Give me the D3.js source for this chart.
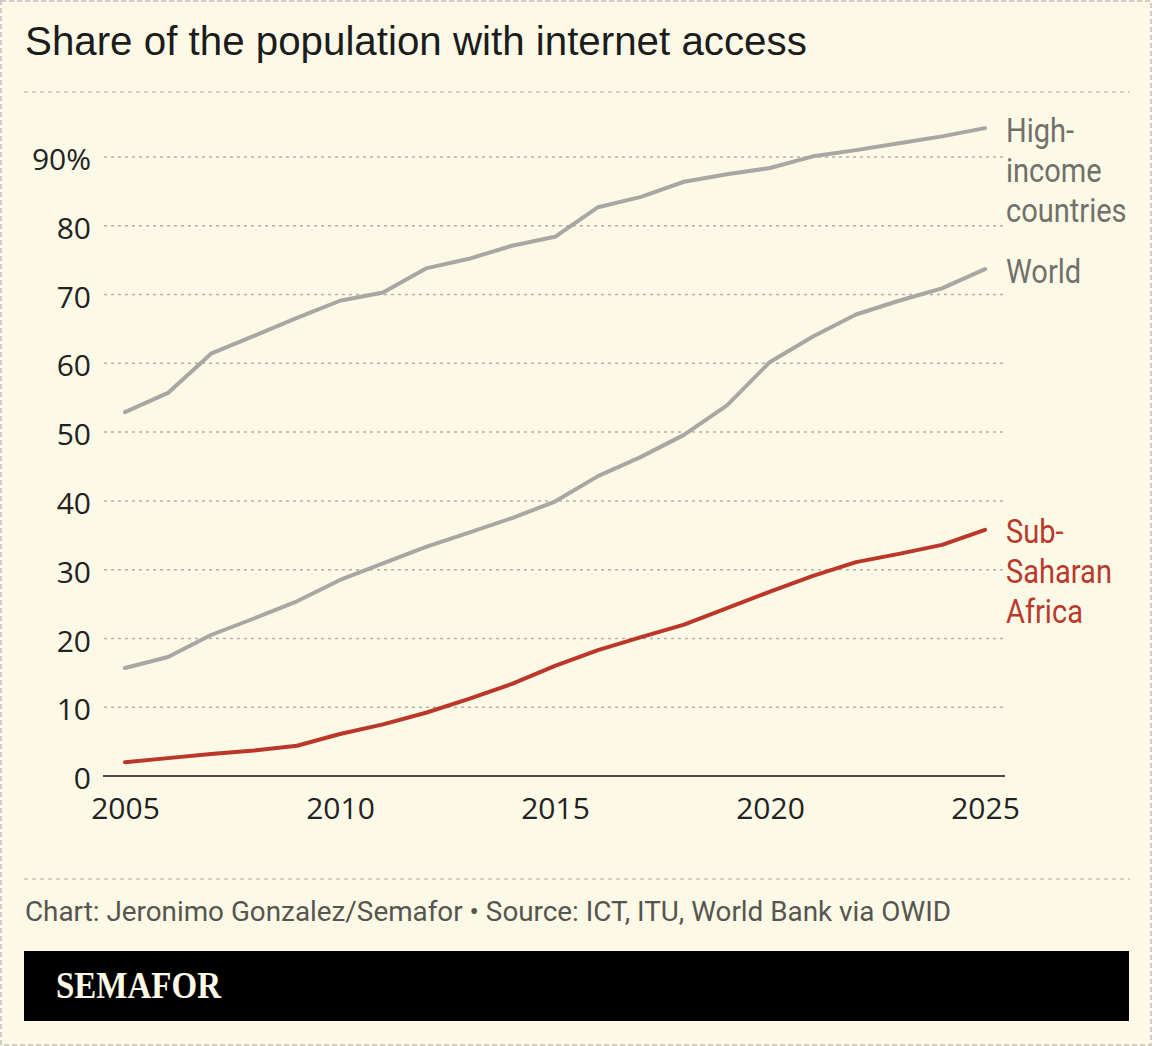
<!DOCTYPE html>
<html>
<head>
<meta charset="utf-8">
<script src="https://cdn.jsdelivr.net/npm/d3@7"></script>
<style>
  body { margin: 0; background: #fcf9e7; }
  svg { display: block; }
  .tick text { font-family: "Open Sans", sans-serif; }
</style>
</head>
<body>
<div class="chart"></div>
<script>
// data
var years = d3.range(2005, 2026);
var highIncome = [52.9, 55.7, 61.4, 64.0, 66.6, 69.1, 70.3, 73.8, 75.2, 77.1, 78.4,
                  82.7, 84.2, 86.4, 87.5, 88.4, 90.1, 91.0, 92.0, 93.0, 94.2];
var world = [15.7, 17.3, 20.5, 22.9, 25.4, 28.5, 30.9, 33.3, 35.4, 37.5, 39.9,
             43.6, 46.4, 49.6, 53.9, 60.2, 63.9, 67.1, 69.1, 70.9, 73.7];
var subSaharan = [2.0, 2.6, 3.2, 3.7, 4.4, 6.1, 7.5, 9.2, 11.2, 13.4, 16.0,
                  18.3, 20.2, 22.0, 24.4, 26.8, 29.1, 31.1, 32.3, 33.6, 35.8];
var yTicks = [0, 10, 20, 30, 40, 50, 60, 70, 80, 90];
var xTicks = [2005, 2010, 2015, 2020, 2025];

var series = [
  { name: ["High-", "income", "countries"], values: highIncome, color: "#a9a7a3", label: "#72706b" },
  { name: ["World"], values: world, color: "#a9a7a3", label: "#72706b" },
  { name: ["Sub-", "Saharan", "Africa"], values: subSaharan, color: "#bb3727", label: "#b83a2b" }
];

var width = 1152,
    height = 1046;

var svg = d3.select(".chart").append("svg")
    .attr("width", width)
    .attr("height", height);

// outer dashed frame
svg.append("rect")
    .attr("x", 1).attr("y", 1)
    .attr("width", width - 2).attr("height", height - 2)
    .attr("fill", "#fcf9e7")
    .attr("stroke", "#cfcdc6")
    .attr("stroke-width", 2)
    .attr("stroke-dasharray", "5,3");

svg.append("text")
    .attr("x", 25)
    .attr("y", 55)
    .attr("font-family", "Liberation Sans, Arial, sans-serif")
    .attr("font-size", 40.3)
    .attr("fill", "#1c1c1c")
    .text("Share of the population with internet access");

// header / footer dividers
svg.selectAll("line.divider")
    .data([92, 879])
  .enter().append("line")
    .attr("class", "divider")
    .attr("x1", 24).attr("x2", 1130)
    .attr("y1", function(d) { return d; })
    .attr("y2", function(d) { return d; })
    .attr("stroke", "#c4c2bb")
    .attr("stroke-width", 1.5)
    .attr("stroke-dasharray", "4,4");

var x = d3.scaleLinear().domain([2005, 2025]).range([125, 985]);
var y = d3.scaleLinear().domain([0, 90]).range([776, 157]);

// gridlines
svg.append("g").selectAll("line.grid")
    .data(yTicks.filter(function(d) { return d > 0; }))
  .enter().append("line")
    .attr("class", "grid")
    .attr("x1", 104).attr("x2", 1005)
    .attr("y1", function(d) { return y(d); })
    .attr("y2", function(d) { return y(d); })
    .attr("stroke", "#b3b1aa")
    .attr("stroke-width", 1.5)
    .attr("stroke-dasharray", "3,4");

// y axis labels
var yAxis = svg.append("g")
    .attr("transform", "translate(91,0)")
    .call(d3.axisLeft(y).tickValues(yTicks).tickSize(0).tickPadding(0)
      .tickFormat(function(d) { return d === 90 ? "90%" : d; }));
yAxis.select(".domain").remove();
yAxis.selectAll("text")
    .attr("font-size", 30)
    .attr("fill", "#222")
    .attr("dy", "0.42em");

// baseline
svg.append("line")
    .attr("x1", 103).attr("x2", 1005)
    .attr("y1", y(0)).attr("y2", y(0))
    .attr("stroke", "#111")
    .attr("stroke-width", 1.5);

var xAxis = svg.append("g")
    .attr("transform", "translate(0," + y(0) + ")")
    .call(d3.axisBottom(x).tickValues(xTicks).tickSize(0).tickPadding(22)
      .tickFormat(d3.format("d")));
xAxis.select(".domain").remove();
xAxis.selectAll("text")
    .attr("font-size", 30)
    .attr("fill", "#222");

var line = d3.line()
    .x(function(d, i) { return x(years[i]); })
    .y(function(d) { return y(d); });

svg.selectAll("path.series")
    .data(series)
  .enter().append("path")
    .attr("class", "series")
    .attr("d", function(d) { return line(d.values); })
    .attr("fill", "none")
    .attr("stroke", function(d) { return d.color; })
    .attr("stroke-width", 4)
    .attr("stroke-linecap", "round")
    .attr("stroke-linejoin", "round");

// end labels, squeezed a little to look condensed
var labels = svg.selectAll("g.label")
    .data(series)
  .enter().append("g")
    .attr("class", "label")
    .attr("transform", function(d) {
      return "translate(1006," + (y(d.values[d.values.length - 1]) + 13.5) + ") scale(0.88,1)";
    })
  .append("text")
    .attr("font-family", "Roboto, sans-serif")
    .attr("font-size", 33)
    .attr("fill", function(d) { return d.label; });

labels.selectAll("tspan")
    .data(function(d) { return d.name; })
  .enter().append("tspan")
    .attr("x", 0)
    .attr("y", function(d, i) { return i * 40; })
    .text(function(d) { return d; });

svg.append("text")
    .attr("x", 25)
    .attr("y", 921)
    .attr("font-family", "Roboto, sans-serif")
    .attr("font-size", 28)
    .attr("fill", "#57554f")
    .attr("textLength", 926)
    .attr("lengthAdjust", "spacingAndGlyphs")
    .text("Chart: Jeronimo Gonzalez/Semafor \u2022 Source: ICT, ITU, World Bank via OWID");

svg.append("rect")
    .attr("x", 24).attr("y", 951)
    .attr("width", 1105).attr("height", 70)
    .attr("fill", "#000");

svg.append("text")
    .attr("x", 56)
    .attr("y", 998)
    .attr("font-family", "Liberation Serif, serif")
    .attr("font-weight", "bold")
    .attr("font-size", 37)
    .attr("fill", "#fcf9e7")
    .attr("textLength", 165)
    .attr("lengthAdjust", "spacingAndGlyphs")
    .text("SEMAFOR");
</script>
</body>
</html>
